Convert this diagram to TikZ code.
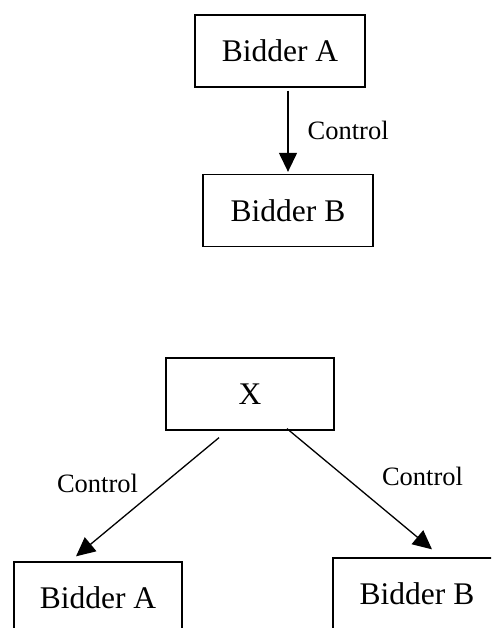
\documentclass[tikz,border=0pt]{standalone}
\usepackage{fontspec}
\setmainfont{Liberation Serif}
\usepackage{tikz}
\usetikzlibrary{arrows.meta, calc}
\tikzset{bidder/.style={draw, line width=1.3pt, minimum width=170pt, minimum height=72pt, inner sep=0pt, font=\fontsize{31.5}{36}\selectfont}}
\tikzset{ctrl/.style={-{Triangle[length=19pt,width=18pt]}, line width=1.3pt}}
\tikzset{ctrllabel/.style={font=\fontsize{26.5}{30}\selectfont, inner sep=0pt}}

\begin{document}
\begin{tikzpicture}[x=1pt, y=-1pt]
\useasboundingbox (0,0) rectangle (491,628);
\clip (0,0) rectangle (491,628);
% first case: A controls B
\node[bidder] (bidA1) at (280,51) {Bidder A};
\node[bidder] (bidB1) at (288,210.5) {Bidder B};
\draw[ctrl, shorten <=3pt, shorten >=2pt] (bidA1.south -| bidB1.north) -- node[ctrllabel, right=19pt, midway] {Control} (bidB1.north);
% second case: X controls both
\node[bidder, minimum width=168pt] (ctlX) at (250,394) {X};
\node[bidder, minimum width=168pt] (bidA2) at (98,598) {Bidder A};
\node[bidder, minimum width=168pt] (bidB2) at (417,594) {Bidder B};
\draw[ctrl] ($(ctlX.south)+(-31,7)$) -- node[ctrllabel, midway, xshift=-50pt, yshift=14pt] {Control} ($(bidA2.north)+(-22,-5)$);
\draw[ctrl] ($(ctlX.south)+(37,-2)$) -- node[ctrllabel, midway, xshift=63pt, yshift=13pt] {Control} ($(bidB2.north)+(15,-8)$);
\end{tikzpicture}
\end{document}
